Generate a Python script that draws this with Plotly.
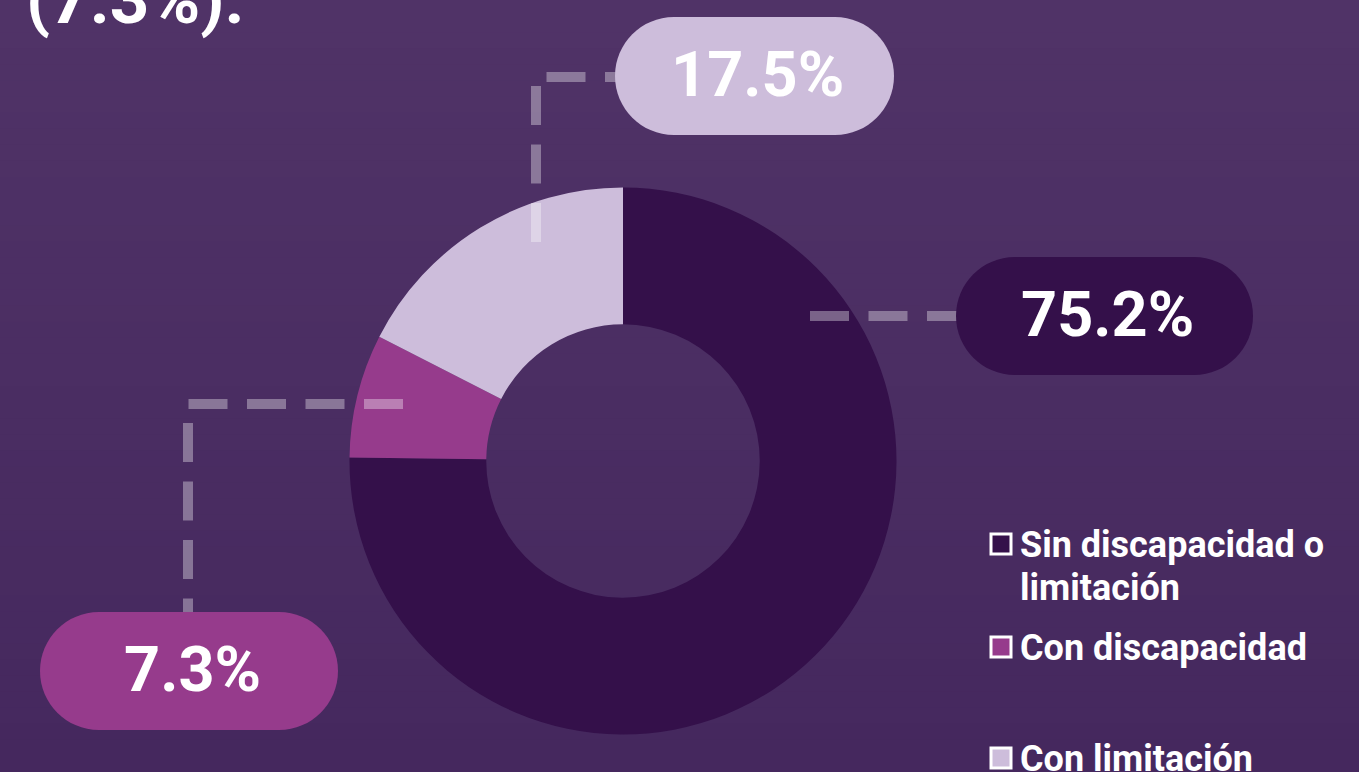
import textwrap
import plotly.graph_objects as go

# ---------------- data ----------------
labels = ["Sin discapacidad o limitación", "Con discapacidad", "Con limitación"]
values = [75.2, 7.3, 17.5]
colors = ["#34104a", "#963b8c", "#cdbddb"]
title_fragment = "(7.3%)."

# ---------------- layout helpers ----------------
W, H = 1359, 772


def X(px):
    return px / W


def Y(py):
    return 1 - py / H


def hexmix(c1, c2, t):
    a = [int(c1[i:i + 2], 16) for i in (1, 3, 5)]
    b = [int(c2[i:i + 2], 16) for i in (1, 3, 5)]
    return "#" + "".join(f"{round(a[i] + (b[i] - a[i]) * t):02x}" for i in range(3))


def pill_path(x0, y0, x1, y1):
    r = (y1 - y0) / 2
    k = 0.5523 * r
    pts = []
    cmds = [
        ("M", [(x0 + r, y0)]),
        ("L", [(x1 - r, y0)]),
        ("C", [(x1 - r + k, y0), (x1, y0 + r - k), (x1, y0 + r)]),
        ("C", [(x1, y0 + r + k), (x1 - r + k, y1), (x1 - r, y1)]),
        ("L", [(x0 + r, y1)]),
        ("C", [(x0 + r - k, y1), (x0, y0 + r + k), (x0, y0 + r)]),
        ("C", [(x0, y0 + r - k), (x0 + r - k, y0), (x0 + r, y0)]),
    ]
    for c, ps in cmds:
        pts.append(c + " " + " ".join(f"{X(px):.6f},{Y(py):.6f}" for px, py in ps))
    return " ".join(pts) + " Z"


def poly_path(points):
    return "M " + " L ".join(f"{X(px):.6f},{Y(py):.6f}" for px, py in points)


# pie geometry (pixels)
cx, cy, R = 623, 461, 273.5

fig = go.Figure(
    go.Pie(
        labels=labels,
        values=values,
        hole=0.5,
        sort=False,
        direction="clockwise",
        rotation=0,
        marker=dict(colors=colors, line=dict(width=0)),
        textinfo="none",
        hoverinfo="label+percent",
        showlegend=False,
        domain=dict(x=[X(cx - R), X(cx + R)], y=[Y(cy + R), Y(cy - R)]),
    )
)

shapes = []
# background gradient
nb = 48
for i in range(nb):
    t = i / (nb - 1)
    shapes.append(dict(type="rect", xref="paper", yref="paper", layer="below",
                       x0=0, x1=1, y0=Y(H * (i + 1) / nb + 1), y1=Y(H * i / nb),
                       fillcolor=hexmix("#503367", "#45285e", t), line=dict(width=0)))

# leader lines (pixels) per slice: dark, magenta, light
leaders = [
    [(810, 316), (960, 316)],
    [(403, 404), (188, 404), (188, 640)],
    [(536, 242), (536, 77), (640, 77)],
]
for pts in leaders:
    shapes.append(dict(type="path", xref="paper", yref="paper", layer="above",
                       path=poly_path(pts),
                       line=dict(color="rgba(255,255,255,0.35)", width=10, dash="39px,19.5px")))

# pills (pixels) per slice
pills = [(956, 257, 1253, 375), (40, 612, 338, 730), (615, 17, 894, 135)]
for (x0, y0, x1, y1), col in zip(pills, colors):
    shapes.append(dict(type="path", xref="paper", yref="paper", layer="above",
                       path=pill_path(x0, y0, x1, y1), fillcolor=col, line=dict(width=0)))

annotations = []
for (x0, y0, x1, y1), v in zip(pills, values):
    annotations.append(dict(x=X((x0 + x1) / 2 + 3), y=Y((y0 + y1) / 2 - 2), xref="paper", yref="paper",
                            text=f"{v}%", showarrow=False, xanchor="center", yanchor="middle",
                            font=dict(family="Roboto", size=63, color="white", weight="bold")))

# custom legend
leg_sq_y = [544, 647, 758]
leg_txt_y = [545, 648, 759]
for lab, col, sy, ty in zip(labels, colors, leg_sq_y, leg_txt_y):
    shapes.append(dict(type="rect", xref="paper", yref="paper", layer="above",
                       x0=X(991), x1=X(1011), y0=Y(sy + 10), y1=Y(sy - 10),
                       fillcolor=col, line=dict(color="white", width=3)))
    for j, line in enumerate(textwrap.wrap(lab, 18)):
        annotations.append(dict(x=X(1018), y=Y(ty + 43 * j), xref="paper", yref="paper",
                                text=line, showarrow=False,
                                xanchor="left", yanchor="middle", align="left",
                                font=dict(family="Roboto", size=36, color="white", weight="bold")))

# cut-off title fragment
annotations.append(dict(x=X(24), y=Y(42), xref="paper", yref="paper", text=title_fragment,
                        showarrow=False, xanchor="left", yanchor="bottom",
                        font=dict(family="Roboto", size=69, color="white", weight="bold")))

fig.update_layout(
    width=W, height=H,
    margin=dict(l=0, r=0, t=0, b=0),
    paper_bgcolor="#4a2d63",
    plot_bgcolor="#4a2d63",
    shapes=shapes,
    annotations=annotations,
)

fig.write_html("out.html", config={"displayModeBar": False},
               post_script="document.body.style.margin='0';document.body.style.overflow='hidden';")
